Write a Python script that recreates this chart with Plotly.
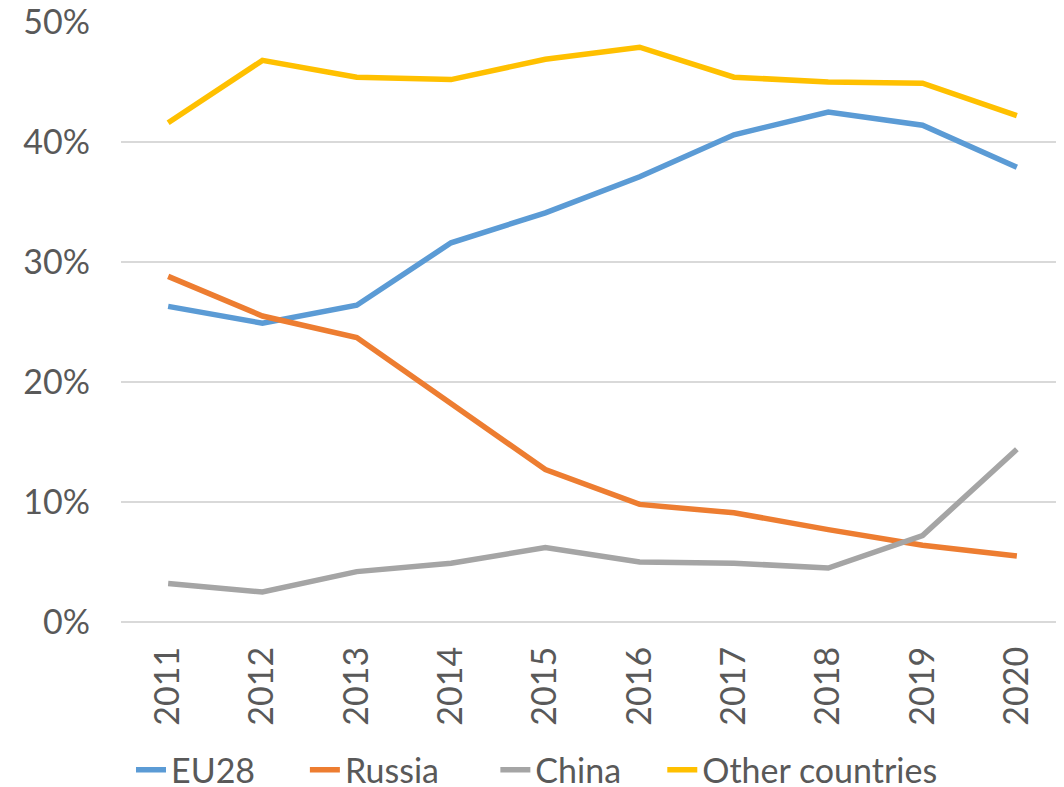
import plotly.graph_objects as go

years = ["2011", "2012", "2013", "2014", "2015", "2016", "2017", "2018", "2019", "2020"]
eu28 = [26.3, 24.9, 26.4, 31.6, 34.1, 37.1, 40.6, 42.5, 41.4, 37.9]
russia = [28.8, 25.5, 23.7, 18.2, 12.7, 9.8, 9.1, 7.7, 6.4, 5.5]
china = [3.2, 2.5, 4.2, 4.9, 6.2, 5.0, 4.9, 4.5, 7.2, 14.4]
other = [41.6, 46.8, 45.4, 45.2, 46.9, 47.9, 45.4, 45.0, 44.9, 42.2]
y_ticks = [0, 0.1, 0.2, 0.3, 0.4, 0.5]
y_tick_labels = ["0%", "10%", "20%", "30%", "40%", "50%"]

series = [
    ("EU28", eu28, "#5B9BD5"),
    ("Russia", russia, "#ED7D31"),
    ("China", china, "#A5A5A5"),
    ("Other countries", other, "#FFC000"),
]
legend_x = [0.0106, 0.195, 0.397, 0.574]

FONT = "Lato, Calibri, Carlito, sans-serif"
TXT = "#595959"
FS = 34

fig = go.Figure()
legend_layout = {}
for i, (name, vals, color) in enumerate(series):
    lg = "legend" if i == 0 else f"legend{i + 1}"
    fig.add_trace(go.Scatter(
        x=years, y=[v / 100 for v in vals], name=name, mode="lines",
        line=dict(color=color, width=5.5), legend=lg,
    ))
    legend_layout[lg] = dict(
        orientation="h", x=legend_x[i], xanchor="left", y=-0.247, yanchor="middle",
        font=dict(family=FONT, size=FS, color=TXT), bgcolor="rgba(0,0,0,0)",
    )

# page body has an 8px default margin, so the figure is sized/offset to compensate
fig.update_layout(
    width=1056, height=779,
    margin=dict(l=113, r=0, t=14, b=165, autoexpand=False),
    paper_bgcolor="white", plot_bgcolor="white",
    font=dict(family=FONT, size=FS, color=TXT),
    showlegend=True,
    hovermode=False,
    **legend_layout,
)
fig.update_xaxes(
    type="category", range=[-0.5, 9.5], tickangle=-90, showgrid=False, showline=False,
    zeroline=False, ticks="", ticklabelstandoff=17, automargin=False,
    tickfont=dict(family=FONT, size=FS, color=TXT),
)
fig.update_yaxes(
    range=[0, 0.5], tickmode="array", tickvals=y_ticks, ticktext=y_tick_labels,
    showgrid=True, gridcolor="#D9D9D9",
    gridwidth=2, zeroline=True, zerolinecolor="#D9D9D9", zerolinewidth=2,
    showline=False, ticks="", ticklabelstandoff=30, automargin=False,
    ticklabeloverflow="allow",
    tickfont=dict(family=FONT, size=FS, color=TXT),
)

fig.write_html("out.html")
